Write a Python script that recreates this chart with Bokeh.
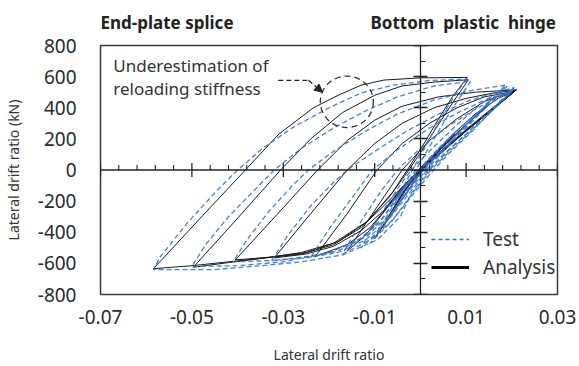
from bokeh.plotting import figure
from bokeh.models import (Range1d, LinearAxis, FixedTicker, Legend, LegendItem,
                          Label, Arrow, NormalHead, Span)
from bokeh.embed import file_html
from bokeh.resources import INLINE

# ---------------- data ----------------
x_ticks = [-0.07, -0.05, -0.03, -0.01, 0.01, 0.03]
x_tick_labels = ["-0.07", "-0.05", "-0.03", "-0.01", "0.01", "0.03"]
y_ticks = [-800, -600, -400, -200, 0, 200, 400, 600, 800]
y_tick_labels = ["-800", "-600", "-400", "-200", "0", "200", "400", "600", "800"]
x_cross_minor = [-0.066, -0.062, -0.058, -0.054, -0.046, -0.042, -0.038, -0.034,
                 -0.026, -0.022, -0.018, -0.014, -0.006, -0.002, 0.002, 0.006,
                 0.014, 0.018, 0.022, 0.026]
y_cross_minor = [-700, -500, -300, -100, 100, 300, 500, 700]

# Analysis (black solid) loops
ana_loop1_x = [0.021, 0.016, 0.010, 0.004, 0.000, -0.004, -0.008, -0.013, -0.019, -0.026, -0.034, -0.042, -0.050, -0.0584,
               -0.0485, -0.0383, -0.031, -0.0234, -0.018, -0.013, -0.008, 0.000, 0.0103]
ana_loop1_y = [515, 390, 255, 110, 10, -110, -230, -370, -480, -540, -565, -590, -615, -634,
               -320, 0, 230, 400, 480, 545, 578, 592, 595]
ana_loop2_x = [0.0103, 0.007, 0.004, 0.001, -0.002, -0.006, -0.0116, -0.019, -0.026, -0.034, -0.042, -0.0497,
               -0.040, -0.0306, -0.024, -0.017, -0.010, -0.004, 0.003, 0.0105]
ana_loop2_y = [595, 470, 330, 180, 40, -140, -330, -470, -530, -565, -595, -625,
               -310, 0, 200, 370, 480, 540, 565, 580]
ana_loop3_x = [0.0105, 0.007, 0.003, 0.000, -0.003, -0.007, -0.012, -0.018, -0.025, -0.033, -0.0405,
               -0.0315, -0.0225, -0.016, -0.010, -0.004, 0.004, 0.012, 0.021]
ana_loop3_y = [580, 430, 250, 110, -20, -180, -340, -460, -530, -560, -578,
               -290, 0, 190, 320, 410, 470, 500, 515]
ana_loop4_x = [0.021, 0.015, 0.010, 0.005, 0.001, -0.003, -0.008, -0.013, -0.019, -0.025, -0.032,
               -0.024, -0.016, -0.010, -0.004, 0.003, 0.010, 0.016, 0.0205]
ana_loop4_y = [515, 370, 250, 125, 20, -100, -260, -390, -490, -540, -565,
               -280, 0, 170, 300, 400, 460, 495, 510]
ana_loop5_x = [0.0205, 0.015, 0.010, 0.005, 0.001, -0.003, -0.007, -0.011, -0.016, -0.023,
               -0.016, -0.0095, -0.004, 0.002, 0.008, 0.014, 0.0205]
ana_loop5_y = [510, 380, 260, 135, 30, -90, -230, -370, -480, -555,
               -280, 0, 170, 300, 400, 470, 505]
ana_loop6_x = [0.0205, 0.015, 0.010, 0.005, 0.000, -0.004, -0.008, -0.012, -0.016,
               -0.010, -0.004, 0.002, 0.008, 0.014, 0.021]
ana_loop6_y = [505, 375, 255, 130, 10, -120, -270, -420, -520,
               -260, 0, 190, 330, 440, 515]
ana_loop7_x = [0.021, 0.015, 0.010, 0.005, 0.000, -0.004, -0.007, -0.010,
               -0.005, 0.0005, 0.006, 0.012, 0.017, 0.021]
ana_loop7_y = [515, 370, 250, 120, 0, -150, -300, -440,
               -230, 0, 200, 360, 460, 515]
ana_loop8_x = [0.0075, 0.003, -0.001, -0.0045, -0.0075, -0.004, 0.000, 0.004, 0.0075]
ana_loop8_y = [230, 100, -20, -130, -240, -120, 10, 130, 230]
ana_loop9_x = [0.015, 0.010, 0.005, 0.000, -0.004, -0.007, -0.003, 0.002, 0.008, 0.015]
ana_loop9_y = [420, 290, 150, 15, -160, -300, -120, 60, 240, 420]

# Test (blue dashed) loops
test_loop1_x = [0.0205, 0.016, 0.011, 0.006, 0.002, -0.002, -0.0044, -0.0094, -0.0168, -0.026, -0.035, -0.045, -0.0584,
                -0.0569, -0.051, -0.0444, -0.040, -0.0345, -0.0278, -0.020, -0.0131, -0.006, 0.002, 0.0102]
test_loop1_y = [530, 400, 260, 120, 0, -150, -300, -448, -544, -590, -615, -640, -640,
                -557, -340, -128, 0, 140, 275, 400, 493, 545, 575, 585]
test_loop2_x = [0.0102, 0.008, 0.005, 0.002, -0.001, -0.004, -0.008, -0.013, -0.020, -0.030, -0.040, -0.050,
                -0.047, -0.042, -0.036, -0.032, -0.026, -0.019, -0.012, -0.005, 0.003, 0.011]
test_loop2_y = [585, 500, 360, 200, 40, -120, -300, -440, -530, -590, -615, -620,
                -480, -300, -120, 0, 140, 270, 380, 470, 540, 570]
test_loop3_x = [0.011, 0.008, 0.005, 0.002, -0.001, -0.005, -0.009, -0.014, -0.021, -0.031, -0.041,
                -0.038, -0.033, -0.028, -0.0245, -0.019, -0.012, -0.005, 0.003, 0.011, 0.0185]
test_loop3_y = [570, 440, 300, 150, 0, -180, -340, -460, -540, -580, -590,
                -450, -260, -100, 0, 120, 250, 360, 450, 510, 545]
test_loop4_x = [0.0185, 0.014, 0.009, 0.005, 0.001, -0.003, -0.007, -0.012, -0.018, -0.025, -0.0325,
                -0.029, -0.024, -0.019, -0.016, -0.010, -0.003, 0.004, 0.011, 0.0205]
test_loop4_y = [545, 400, 250, 120, -10, -150, -300, -430, -520, -565, -580,
                -420, -230, -80, 0, 120, 250, 360, 450, 530]
test_loop5_x = [0.0205, 0.015, 0.010, 0.005, 0.001, -0.003, -0.007, -0.012, -0.018, -0.024,
                -0.020, -0.015, -0.0105, -0.005, 0.002, 0.009, 0.015, 0.020]
test_loop5_y = [530, 370, 230, 100, -20, -170, -320, -450, -530, -560,
                -380, -180, 0, 130, 270, 380, 460, 505]
test_loop6_x = [0.020, 0.015, 0.010, 0.006, 0.002, -0.002, -0.006, -0.011, -0.017,
                -0.013, -0.0085, -0.005, 0.000, 0.006, 0.012, 0.017, 0.0205]
test_loop6_y = [505, 360, 220, 110, -10, -160, -320, -450, -540,
                -330, -130, 0, 140, 280, 390, 470, 520]
test_loop7_x = [0.0205, 0.016, 0.011, 0.006, 0.002, -0.002, -0.006, -0.011,
                -0.007, -0.003, 0.000, 0.004, 0.009, 0.014, 0.018, 0.0205]
test_loop7_y = [520, 390, 240, 100, -30, -170, -320, -470,
                -280, -90, 0, 140, 280, 400, 480, 520]
test_loop8_x = [0.0075, 0.004, 0.000, -0.004, -0.0075, -0.005, -0.001, 0.003, 0.0075]
test_loop8_y = [240, 130, 0, -140, -250, -160, -20, 110, 240]
test_loop9_x = [0.0155, 0.011, 0.006, 0.001, -0.003, -0.0075, -0.004, 0.000, 0.005, 0.010, 0.0155]
test_loop9_y = [450, 320, 170, 20, -130, -330, -180, -30, 130, 290, 450]
test_loop10_x = [0.019, 0.014, 0.009, 0.004, 0.000, -0.004, -0.008, -0.013,
                 -0.009, -0.005, -0.002, 0.003, 0.008, 0.013, 0.019]
test_loop10_y = [540, 390, 240, 100, -20, -190, -360, -500,
                 -300, -120, 0, 150, 290, 420, 540]

analysis_xs = [ana_loop1_x, ana_loop2_x, ana_loop3_x, ana_loop4_x, ana_loop5_x, ana_loop6_x,
               ana_loop7_x, ana_loop8_x, ana_loop9_x]
analysis_ys = [ana_loop1_y, ana_loop2_y, ana_loop3_y, ana_loop4_y, ana_loop5_y, ana_loop6_y,
               ana_loop7_y, ana_loop8_y, ana_loop9_y]
test_xs = [test_loop1_x, test_loop2_x, test_loop3_x, test_loop4_x, test_loop5_x, test_loop6_x,
           test_loop7_x, test_loop8_x, test_loop9_x, test_loop10_x]
test_ys = [test_loop1_y, test_loop2_y, test_loop3_y, test_loop4_y, test_loop5_y, test_loop6_y,
           test_loop7_y, test_loop8_y, test_loop9_y, test_loop10_y]

header_left = "End-plate\u00a0splice"
header_right = "Bottom\u00a0\u00a0plastic\u00a0\u00a0hinge"

# ---------------- styling ----------------
FONT = "Noto Sans"
BLUE = "#3272d4"
BLACK = "#1c1c1c"
AXC = "#222222"
NAN = float("nan")
Y_PX = 1600 / 250.0          # data units (kN) per screen pixel on the y axis
MAJOR_HALF = 7 * Y_PX         # crossing tick half length
MINOR_LEN = 5 * Y_PX          # minor tick length

p = figure(width=579, height=366, output_backend="svg", toolbar_location=None,
           x_range=Range1d(-0.07, 0.03), y_range=Range1d(-800, 800),
           min_border_left=100, min_border_right=22, min_border_top=45, min_border_bottom=71)
p.grid.visible = False
p.outline_line_color = "#3a3a3a"
p.outline_line_width = 1.5
p.background_fill_color = "white"
p.border_fill_color = "white"

# header texts (as a title above the frame)
p.title.text = header_left + "\u00a0" * 31 + header_right
p.title.align = "left"
p.title.vertical_align = "top"
p.title.text_font = FONT
p.title.text_font_size = "17px"
p.title.text_font_style = "bold"
p.title.text_color = "#222222"
p.title.standoff = 20

xa = p.xaxis[0]
xa.ticker = FixedTicker(ticks=x_ticks, minor_ticks=[])
xa.major_label_overrides = {t: l for t, l in zip(x_ticks, x_tick_labels)}
xa.axis_line_color = None
xa.major_tick_line_color = None
xa.minor_tick_line_color = None
xa.major_tick_out = 0
xa.major_tick_in = 0
xa.major_label_standoff = 15
xa.major_label_text_font = FONT
xa.major_label_text_font_size = "19px"
xa.major_label_text_color = "#2a2a2a"
xa.axis_label = "Lateral drift ratio"
xa.axis_label_text_font = FONT
xa.axis_label_text_font_size = "14px"
xa.axis_label_text_font_style = "normal"
xa.axis_label_text_color = "#333333"
xa.axis_label_standoff = 18

ya = p.yaxis[0]
ya.ticker = FixedTicker(ticks=y_ticks, minor_ticks=[])
ya.major_label_overrides = {t: l for t, l in zip(y_ticks, y_tick_labels)}
ya.axis_line_color = None
ya.major_tick_line_color = None
ya.minor_tick_line_color = None
ya.major_tick_out = 0
ya.major_tick_in = 0
ya.major_label_standoff = 24
ya.major_label_text_font = FONT
ya.major_label_text_font_size = "19px"
ya.major_label_text_color = "#2a2a2a"
ya.axis_label = "Lateral drift ratio (kN)"
ya.axis_label_text_font = FONT
ya.axis_label_text_font_size = "14px"
ya.axis_label_text_font_style = "normal"
ya.axis_label_text_color = "#333333"
ya.axis_label_standoff = 12

# vertical axis crossing at x = 0
y_cross = LinearAxis(fixed_location=0,
                     ticker=FixedTicker(ticks=y_ticks, minor_ticks=y_cross_minor),
                     major_tick_in=7, major_tick_out=7, minor_tick_in=0, minor_tick_out=5,
                     major_label_text_font_size="1px", major_label_text_color=None,
                     major_label_standoff=0,
                     axis_line_color=AXC, axis_line_width=1.3,
                     major_tick_line_color=AXC, major_tick_line_width=1.3,
                     minor_tick_line_color=AXC, minor_tick_line_width=1.1)
p.add_layout(y_cross, "right")

# horizontal axis crossing at y = 0 (line + ticks from the tick lists)
p.add_layout(Span(location=0, dimension="width", line_color=AXC, line_width=1.3))
p.segment(x0=x_ticks, y0=[-MAJOR_HALF] * len(x_ticks), x1=x_ticks, y1=[MAJOR_HALF] * len(x_ticks),
          line_color=AXC, line_width=1.3)
p.segment(x0=x_cross_minor, y0=[0] * len(x_cross_minor), x1=x_cross_minor,
          y1=[MINOR_LEN] * len(x_cross_minor), line_color=AXC, line_width=1.1)

# curves
p.multi_line(xs=analysis_xs, ys=analysis_ys, line_color=BLACK, line_width=1.0,
             line_join="round")
p.multi_line(xs=test_xs, ys=test_ys, line_color=BLUE, line_width=1.3,
             line_dash="5 3", line_join="round", line_alpha=0.9)

# legend (placeholder renderers only carry the legend glyph styles)
leg_test = p.line(x=[NAN], y=[NAN], line_color=BLUE, line_width=1.3, line_dash="4 3")
leg_ana = p.line(x=[NAN], y=[NAN], line_color="black", line_width=3)
legend = Legend(items=[LegendItem(label="Test", renderers=[leg_test]),
                       LegendItem(label="Analysis", renderers=[leg_ana])],
                location=(331, 14), glyph_width=38, glyph_height=20, label_height=20,
                label_standoff=14, spacing=2, padding=0, margin=0,
                border_line_color=None, background_fill_alpha=0,
                label_text_font=FONT, label_text_font_size="19px", label_text_color="#333333")
p.add_layout(legend)

# annotation
p.add_layout(Label(x=-0.0672, y=672, text="Underestimation  of", text_font=FONT,
                   text_font_size="17px", text_baseline="middle", text_color="#333333"))
p.add_layout(Label(x=-0.0672, y=525, text="reloading  stiffness", text_font=FONT,
                   text_font_size="17px", text_baseline="middle", text_color="#333333"))
p.ellipse(x=-0.0161, y=438, width=0.0116, height=331, fill_alpha=0,
          line_color="#333333", line_dash="6 4", line_width=1.3)
p.add_layout(Arrow(end=None, x_start=-0.0311, y_start=576, x_end=-0.0245, y_end=576,
                   line_dash="5 3", line_width=1.3, line_color="#222222"))
p.add_layout(Arrow(end=NormalHead(size=8, fill_color="#222222", line_color="#222222"),
                   x_start=-0.0245, y_start=576, x_end=-0.0214, y_end=499,
                   line_dash="5 3", line_width=1.3, line_color="#222222"))

open("out.html", "w").write(file_html(p, INLINE))
